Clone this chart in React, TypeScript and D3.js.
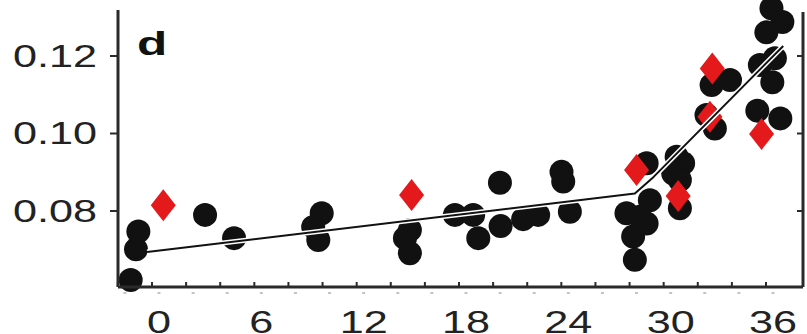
import { useEffect, useRef } from "react";
import * as d3 from "d3";

// measured samples (black dots)
const circleX = [-1.66, -1.35, -1.21, 2.7, 4.4, 9.54, 9.04, 9.34, 14.71, 14.42, 14.71, 17.35, 18.42, 18.72, 19.99, 20.03, 21.35, 22.23, 23.6, 23.7, 24.09, 27.41, 28.19, 28.78, 27.8, 27.9, 28.59, 28.59, 30.35, 30.73, 30.15, 30.54, 30.54, 32.4, 33.48, 32.1, 32.59, 35.91, 36.55, 35.61, 36.11, 35.23, 35.96, 35.08, 36.43];
const circleY = [0.0622, 0.0701, 0.0747, 0.079, 0.073, 0.0794, 0.0759, 0.0725, 0.0751, 0.073, 0.0691, 0.079, 0.079, 0.073, 0.0873, 0.0761, 0.0779, 0.079, 0.0901, 0.0876, 0.0798, 0.0794, 0.0785, 0.0828, 0.0734, 0.0674, 0.0768, 0.0923, 0.094, 0.0923, 0.0897, 0.088, 0.0807, 0.1125, 0.1138, 0.1048, 0.1013, 0.1323, 0.1288, 0.1261, 0.1194, 0.1177, 0.1132, 0.1059, 0.1039];

// red diamonds
const diamondX = [0.25, 14.81, 28.0, 30.44, 32.44, 32.3, 35.33];
const diamondY = [0.0815, 0.0841, 0.0906, 0.0839, 0.1168, 0.1043, 0.0999];

// fitted line (two straight pieces with a short knee)
const fitX = [-0.7, 27.9, 29.0, 36.6];
const fitY = [0.0694, 0.0845, 0.0888, 0.1226];

const xTicks = [0, 6, 12, 18, 24, 30, 36];
const xMinor = d3.range(-2, 38, 2);
const yTicks = [0.08, 0.1, 0.12];

const width = 807;
const height = 334;
const axisLeft = 118;
const axisRight = 803;
const axisBottom = 287;

const App = () => {
  const lineRef = useRef<SVGGElement>(null);

  const xScale = d3.scaleLinear().domain([0, 36]).range([159, 773]);
  const yScale = d3.scaleLinear().domain([0.08, 0.12]).range([211, 56]);

  const circles = circleX.map((x, i) => ({ x, y: circleY[i] }));
  const diamonds = diamondX.map((x, i) => ({ x, y: diamondY[i] }));
  const fit = fitX.map((x, i) => ({ x, y: fitY[i] }));

  const line = d3
    .line<{ x: number; y: number }>()
    .x((d) => xScale(d.x))
    .y((d) => yScale(d.y));

  useEffect(() => {
    document.body.style.margin = "0";
  }, []);

  const stretch = 1.35;
  const font = "'Liberation Sans', Arial, sans-serif";

  return (
    <svg width={width} height={height} style={{ display: "block", background: "#fff" }}>
      {/* points */}
      <g className="circles">
        {circles.map((d, i) => (
          <circle key={i} cx={xScale(d.x)} cy={yScale(d.y)} r={12} fill="#111" />
        ))}
      </g>
      <g className="diamonds">
        {diamonds.map((d, i) => {
          const cx = xScale(d.x);
          const cy = yScale(d.y);
          return (
            <path
              key={i}
              d={`M${cx},${cy - 16}L${cx + 12.5},${cy}L${cx},${cy + 16}L${cx - 12.5},${cy}Z`}
              fill="#e3191c"
            />
          );
        })}
      </g>
      <g ref={lineRef} className="fit">
        <path d={line(fit) || ""} fill="none" stroke="#fff" strokeWidth={5} strokeLinejoin="round" />
        <path d={line(fit) || ""} fill="none" stroke="#111" strokeWidth={2} strokeLinejoin="round" />
      </g>

      {/* frame */}
      <g stroke="#2a2a2a" strokeWidth={3} fill="none">
        <line x1={axisLeft} y1={10} x2={axisLeft} y2={axisBottom} />
        <line x1={axisLeft} y1={axisBottom} x2={axisRight} y2={axisBottom} />
        <line x1={axisRight} y1={12} x2={axisRight} y2={axisBottom} />
      </g>

      {/* y ticks */}
      {yTicks.map((t) => (
        <g key={t}>
          <line x1={110} x2={axisLeft} y1={yScale(t)} y2={yScale(t)} stroke="#2a2a2a" strokeWidth={2} />
          <line x1={axisRight - 6} x2={axisRight} y1={yScale(t)} y2={yScale(t)} stroke="#2a2a2a" strokeWidth={2} />
          <text
            transform={`translate(97,${yScale(t)}) scale(${stretch},1)`}
            textAnchor="end"
            dominantBaseline="central"
            fontFamily={font}
            fontSize={32}
            fill="#222"
          >
            {t.toFixed(2)}
          </text>
        </g>
      ))}

      {/* x ticks */}
      {xMinor.map((t) => (
        <g key={t}>
          <line x1={xScale(t) - 7} x2={xScale(t) - 7} y1={axisBottom} y2={axisBottom - 5} stroke="#2a2a2a" strokeWidth={2} />
          <line x1={xScale(t) - 1.5} x2={xScale(t) + 1.5} y1={axisBottom + 6} y2={axisBottom + 6} stroke="#888" strokeWidth={1} />
        </g>
      ))}
      {xTicks.map((t) => (
        <text
          key={t}
          transform={`translate(${xScale(t)},333) scale(${stretch},1)`}
          textAnchor="middle"
          fontFamily={font}
          fontSize={32}
          fill="#222"
        >
          {t}
        </text>
      ))}

      {/* panel label */}
      <text
        transform={`translate(137,55) scale(1.5,1)`}
        fontFamily={font}
        fontWeight="bold"
        fontSize={33}
        fill="#111"
      >
        d
      </text>
    </svg>
  );
};

export default App;
